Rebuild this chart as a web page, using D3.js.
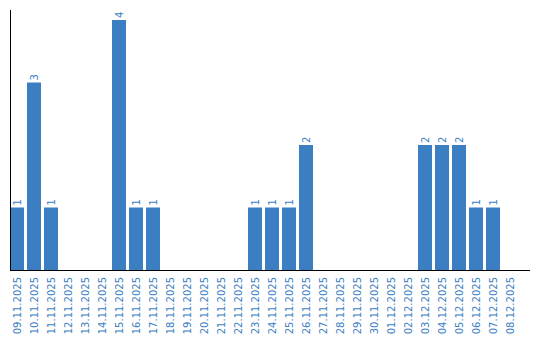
<!DOCTYPE html>
<html><head><meta charset="utf-8">
<script src="https://cdn.jsdelivr.net/npm/d3@7"></script>
<style>body{margin:0;background:#fff}svg{display:block}</style>
</head><body>
<script>
const categories = ["09.11.2025","10.11.2025","11.11.2025","12.11.2025","13.11.2025","14.11.2025","15.11.2025","16.11.2025","17.11.2025","18.11.2025","19.11.2025","20.11.2025","21.11.2025","22.11.2025","23.11.2025","24.11.2025","25.11.2025","26.11.2025","27.11.2025","28.11.2025","29.11.2025","30.11.2025","01.12.2025","02.12.2025","03.12.2025","04.12.2025","05.12.2025","06.12.2025","07.12.2025","08.12.2025"];
const values = [1,3,1,0,0,0,4,1,1,0,0,0,0,0,1,1,1,2,0,0,0,0,0,0,2,2,2,1,1,0];

const W = 540, H = 340;
const left = 10, baseY = 270, topY = 10, rightAxis = 530;
const blue = "#3b7ec2";

const svg = d3.select("body").append("svg").attr("width", W).attr("height", H);

const x = d3.scaleBand().domain(categories).range([left, left + 17 * categories.length - 3]).paddingInner(3/17).paddingOuter(0);
const y = d3.scaleLinear().domain([0, 4]).range([baseY, 20]);

const data = categories.map((c,i) => ({c, v: values[i]}));
const nz = data.filter(d => d.v > 0);

svg.selectAll("rect.bar").data(nz).join("rect")
  .attr("class","bar")
  .attr("x", d => x(d.c))
  .attr("width", x.bandwidth())
  .attr("y", d => y(d.v))
  .attr("height", d => baseY - y(d.v))
  .attr("fill", blue);

svg.selectAll("text.val").data(nz).join("text")
  .attr("class","val")
  .attr("transform", d => `translate(${x(d.c) + x.bandwidth()/2 + 3.5},${y(d.v) - 2}) rotate(-90)`)
  .attr("font-family","DejaVu Sans, sans-serif")
  .attr("font-size", 10)
  .attr("fill", blue)
  .text(d => d.v);

// x labels
svg.append("g").selectAll("text").data(categories).join("text")
  .attr("transform", c => `translate(${x(c) + x.bandwidth()/2 + 3.5},${baseY + 7}) rotate(-90)`)
  .attr("text-anchor","end")
  .attr("font-family","DejaVu Sans, sans-serif")
  .attr("font-size", 10)
  .attr("fill", blue)
  .text(c => c);

svg.append("line").attr("x1", left + 0.5).attr("x2", left + 0.5).attr("y1", topY).attr("y2", baseY + 1).attr("stroke","#000");
svg.append("line").attr("x1", left).attr("x2", rightAxis).attr("y1", baseY + 0.5).attr("y2", baseY + 0.5).attr("stroke","#000");
</script>
</body></html>
